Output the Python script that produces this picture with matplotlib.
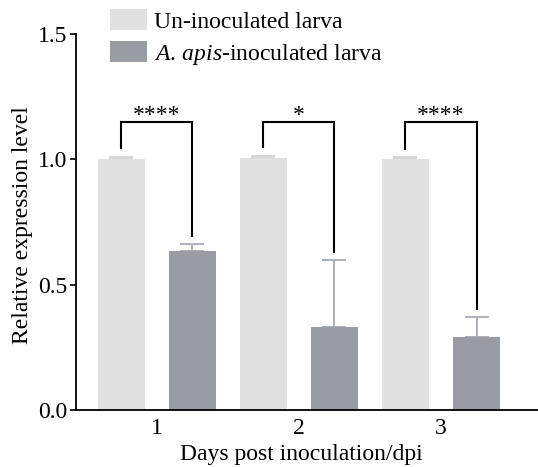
import matplotlib
matplotlib.use("Agg")
import matplotlib.pyplot as plt
from matplotlib.patches import Patch
import numpy as np

plt.rcParams['font.family'] = ['Liberation Serif', 'DejaVu Serif']
plt.rcParams['mathtext.fontset'] = 'custom'
plt.rcParams['mathtext.rm'] = 'Liberation Serif'
plt.rcParams['mathtext.it'] = 'Liberation Serif:italic'

days = ["1", "2", "3"]
uninoc = [1.0, 1.005, 1.0]
uninoc_err = [0.01, 0.01, 0.008]
inoc = [0.633, 0.332, 0.291]
inoc_err = [0.028, 0.268, 0.08]
stars = ["****", "*", "****"]
series_labels = ["Un-inoculated larva", r"$\it{A.\,apis}$-inoculated larva"]

light = "#e1e1e1"
dark = "#999ca3"
err_dark = "#a9b0bb"
err_light = "#d6d6d6"

FS = 17

fig = plt.figure(figsize=(5.38, 4.67), dpi=100)
ax = fig.add_axes([76/538, 1-410/467, 1-76/538, (410-34)/467])

x = np.arange(1, len(days)+1)
off = 0.25
w = 0.33
ax.bar(x-off, uninoc, w, color=light, zorder=2)
ax.bar(x+off, inoc, w, color=dark, zorder=2)
ax.errorbar(x-off, uninoc, yerr=[np.zeros(3), uninoc_err], fmt='none', ecolor=err_light,
            elinewidth=1.4, capsize=8.5, capthick=1.4, zorder=1)
ax.errorbar(x+off, inoc, yerr=[np.zeros(3), inoc_err], fmt='none', ecolor=err_dark,
            elinewidth=1.4, capsize=8.5, capthick=1.4, zorder=1)

top = 1.148
for i in range(len(days)):
    xl = x[i] - off
    xr = x[i] + off
    yl = uninoc[i] + uninoc_err[i] + 0.035
    yr = inoc[i] + inoc_err[i] + 0.032
    ax.plot([xl, xl, xr, xr], [yl, top, top, yr], color='black', lw=1.5, zorder=3,
            solid_joinstyle='miter')
    ax.text(x[i], top + 0.004, stars[i], ha='center', va='baseline', fontsize=FS)

ax.set_xlim(0.43, 3.683)
ax.set_ylim(0, 1.5)
ax.set_yticks([0.0, 0.5, 1.0, 1.5])
ax.set_yticklabels(["0.0", "0.5", "1.0", "1.5"])
ax.set_xticks(x)
ax.set_xticklabels(days)
ax.tick_params(axis='y', length=4, width=1.2, pad=2.5, labelsize=FS)
ax.tick_params(axis='x', length=0, pad=6, labelsize=FS)
for s in ['top', 'right']:
    ax.spines[s].set_visible(False)
for s in ['left', 'bottom']:
    ax.spines[s].set_linewidth(1.3)

ax.set_xlabel("Days post inoculation/dpi", fontsize=FS)
ax.xaxis.set_label_coords((301-76)/462, -0.09)
ax.set_ylabel("Relative expression level", fontsize=FS)
ax.yaxis.set_label_coords((33-76)/462, 0.493)

handles = [Patch(facecolor=light, edgecolor='none'), Patch(facecolor=dark, edgecolor='none')]
fig.legend(handles, series_labels, loc='upper left', bbox_to_anchor=(110/538, 1-9/467),
           frameon=False, fontsize=FS, handlelength=1.55, handleheight=1.0,
           handletextpad=0.3, labelspacing=0.36, borderpad=0, borderaxespad=0)

fig.savefig("out.png", dpi=100)
